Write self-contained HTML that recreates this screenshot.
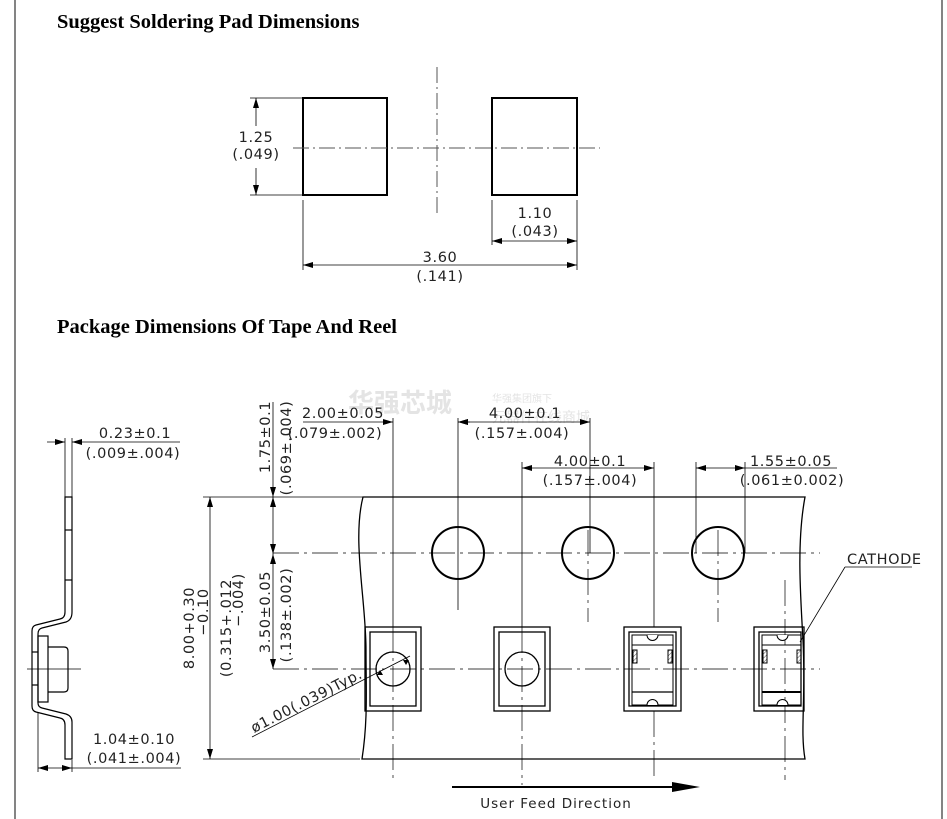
<!DOCTYPE html>
<html><head><meta charset="utf-8"><style>
body{margin:0;background:#fff;}
svg{display:block;}
.t{font-family:"DejaVu Sans","Liberation Sans",sans-serif;font-size:14.5px;letter-spacing:0.6px;fill:#222;}
.h{font-family:"Liberation Serif",serif;font-weight:bold;font-size:20.5px;fill:#000;}
</style></head><body>
<svg width="947" height="819" viewBox="0 0 947 819" xmlns="http://www.w3.org/2000/svg">
<defs>
<marker id="a" viewBox="0 0 10 6" refX="10" refY="3" markerWidth="10" markerHeight="6" orient="auto-start-reverse" markerUnits="userSpaceOnUse"><path d="M0,0 L10,3 L0,6 z" fill="#000"/></marker>
<pattern id="hp" width="3" height="3" patternUnits="userSpaceOnUse" patternTransform="rotate(45)"><line x1="0" y1="0" x2="0" y2="3" stroke="#555" stroke-width="1"/></pattern>
</defs>
<rect width="947" height="819" fill="#fff"/>
<line x1="15" y1="0" x2="15" y2="819" stroke="#333" stroke-width="1.2"/>
<line x1="942" y1="0" x2="942" y2="819" stroke="#333" stroke-width="1.2"/>

<text class="h" x="57" y="28">Suggest Soldering Pad Dimensions</text>
<text class="h" x="57" y="333">Package Dimensions Of Tape And Reel</text>

<!-- pads -->
<g stroke="#000" fill="none">
<rect x="303" y="98" width="84" height="97" stroke-width="2"/>
<rect x="492" y="98" width="85" height="97" stroke-width="2"/>
<line x1="437" y1="67" x2="437" y2="215" stroke="#555" stroke-width="1" stroke-dasharray="16,4,2,4"/>
<line x1="293" y1="148" x2="600" y2="148" stroke="#555" stroke-width="1" stroke-dasharray="16,4,2,4"/>
<g stroke-width="0.8">
<line x1="250" y1="98" x2="303" y2="98"/><line x1="250" y1="195" x2="303" y2="195"/>
<line x1="256" y1="126" x2="256" y2="98" marker-end="url(#a)"/>
<line x1="256" y1="168" x2="256" y2="195" marker-end="url(#a)"/>
<line x1="492" y1="200" x2="492" y2="245"/><line x1="577" y1="200" x2="577" y2="270"/>
<line x1="303" y1="200" x2="303" y2="270"/>
<line x1="492" y1="241" x2="577" y2="241" marker-start="url(#a)" marker-end="url(#a)"/>
<line x1="303" y1="265" x2="577" y2="265" marker-start="url(#a)" marker-end="url(#a)"/>
</g></g>
<text class="t" x="256" y="142" text-anchor="middle">1.25</text>
<text class="t" x="256" y="159" text-anchor="middle">(.049)</text>
<text class="t" x="535" y="218" text-anchor="middle">1.10</text>
<text class="t" x="535" y="236" text-anchor="middle">(.043)</text>
<text class="t" x="440" y="262" text-anchor="middle">3.60</text>
<text class="t" x="440" y="281" text-anchor="middle">(.141)</text>

<!-- watermark -->
<text x="348" y="412" font-family="'Noto Sans CJK SC',sans-serif" font-weight="bold" font-size="26" fill="#e4e4e4">华强芯城</text>
<text x="492" y="402" font-family="'Noto Sans CJK SC',sans-serif" font-size="10" fill="#e4e4e4">华强集团旗下</text>
<text x="492" y="422" font-family="'Noto Sans CJK SC',sans-serif" font-size="14" fill="#e4e4e4">元器件在线商城</text>

<!-- side profile -->
<g stroke="#000" fill="none" stroke-width="1.2">
<path d="M65,497 H72 V612 Q72,620 66,622 L42,628 Q38,629 38,634 V703 Q38,707 42,708 L66,714 Q72,716 72,722 V759 H65 V725 Q65,719 60,718 L36,712 Q32,711 32,706 V631 Q32,626 36,625 L60,619 Q65,618 65,612 Z"/>
<rect x="38" y="636" width="10" height="66"/>
<path d="M48,647 H64 Q68,647 68,651 V688 Q68,692 64,692 H48"/>
<line x1="65" y1="530" x2="72" y2="530"/><line x1="65" y1="580" x2="72" y2="580"/>
<line x1="32" y1="652" x2="38" y2="652"/><line x1="32" y1="685" x2="38" y2="685"/>
<line x1="27" y1="669" x2="81" y2="669" stroke-width="0.8"/>
</g>
<g stroke="#000" stroke-width="0.8" fill="none">
<line x1="65" y1="438" x2="65" y2="497"/><line x1="72" y1="438" x2="72" y2="497"/>
<line x1="47" y1="442" x2="65" y2="442" marker-end="url(#a)"/>
<line x1="180" y1="442" x2="72" y2="442" marker-end="url(#a)"/>
<line x1="38" y1="712" x2="38" y2="772"/><line x1="72" y1="760" x2="72" y2="772"/>
<line x1="38" y1="768" x2="72" y2="768" marker-start="url(#a)" marker-end="url(#a)"/>
<line x1="72" y1="768" x2="181" y2="768"/>
</g>
<text class="t" x="135" y="438" text-anchor="middle">0.23±0.1</text>
<text class="t" x="133" y="458" text-anchor="middle">(.009±.004)</text>
<text class="t" x="134" y="744" text-anchor="middle">1.04±0.10</text>
<text class="t" x="134" y="763" text-anchor="middle">(.041±.004)</text>

<!-- tape -->
<path d="M363,497 H805 C797,540 800,590 803,640 C806,700 800,730 805,759 H362 C368,720 366,690 366,650 C366,600 352,540 363,497 Z" fill="none" stroke="#000" stroke-width="1.3"/>

<g stroke="#000" stroke-width="0.8" fill="none">
<line x1="203" y1="497" x2="300" y2="497"/><line x1="203" y1="759" x2="360" y2="759"/>
<line x1="210" y1="497" x2="210" y2="759" marker-start="url(#a)" marker-end="url(#a)"/>
<line x1="273" y1="402" x2="273" y2="497" marker-end="url(#a)"/>
<line x1="273" y1="497" x2="273" y2="554" marker-start="url(#a)" marker-end="url(#a)"/>
<line x1="273" y1="554" x2="273" y2="669" marker-start="url(#a)" marker-end="url(#a)"/>
<line x1="300" y1="497" x2="363" y2="497"/>
<line x1="393" y1="418" x2="393" y2="627"/>
<line x1="458" y1="418" x2="458" y2="610"/>
<line x1="590" y1="418" x2="590" y2="553"/>
<line x1="303" y1="422" x2="393" y2="422" marker-end="url(#a)"/>
<line x1="470" y1="422" x2="458" y2="422" marker-end="url(#a)"/>
<line x1="458" y1="422" x2="590" y2="422" marker-start="url(#a)" marker-end="url(#a)"/>
<line x1="522" y1="462" x2="522" y2="627"/>
<line x1="654" y1="462" x2="654" y2="627"/>
<line x1="522" y1="468" x2="654" y2="468" marker-start="url(#a)" marker-end="url(#a)"/>
<line x1="696" y1="462" x2="696" y2="553"/>
<line x1="745" y1="462" x2="745" y2="553"/>
<line x1="696" y1="468" x2="745" y2="468" marker-start="url(#a)" marker-end="url(#a)"/>
<line x1="745" y1="468" x2="837" y2="468"/>
</g>
<g stroke="#000" stroke-width="0.7" fill="none" stroke-dasharray="26,5,3,5">
<line x1="273" y1="553" x2="820" y2="553"/>
<line x1="273" y1="669" x2="820" y2="669"/>
<line x1="393" y1="627" x2="393" y2="780"/>
<line x1="522" y1="627" x2="522" y2="785"/>
<line x1="654" y1="711" x2="654" y2="780"/>
<line x1="785" y1="580" x2="785" y2="780"/>
<line x1="588" y1="530" x2="588" y2="622"/>
<line x1="718" y1="530" x2="718" y2="622"/>
</g>
<g stroke="#000" stroke-width="2" fill="none">
<circle cx="458" cy="553" r="26"/><circle cx="588" cy="553" r="26"/><circle cx="718" cy="553" r="26"/>
</g>
<g stroke="#000" fill="none" stroke-width="1.3">
<rect x="365" y="627" width="56" height="84"/><rect x="370" y="632" width="46" height="74"/>
<circle cx="393" cy="669" r="17"/>
<rect x="494" y="627" width="56" height="84"/><rect x="499" y="632" width="46" height="74"/>
<circle cx="522" cy="669" r="17"/>
<rect x="624" y="627" width="57" height="84"/><rect x="629" y="632" width="47" height="74"/>
<rect x="632" y="635" width="41" height="70" stroke-width="1"/>
<line x1="632" y1="645" x2="673" y2="645" stroke-width="1"/>
<line x1="632" y1="692" x2="673" y2="692" stroke-width="1.2"/>
<rect x="754" y="627" width="50" height="84"/><rect x="759" y="632" width="42" height="74"/>
<rect x="762" y="635" width="39" height="70" stroke-width="1"/>
<line x1="762" y1="645" x2="801" y2="645" stroke-width="1"/>
<line x1="762" y1="692" x2="801" y2="692" stroke-width="2"/>
</g>
<g fill="#fff" stroke="#000" stroke-width="1">
<path d="M647,635 A5,5 0 0 0 658,635"/><path d="M647,705 A5,5 0 0 1 658,705"/>
<path d="M777,635 A5,5 0 0 0 788,635"/><path d="M777,705 A5,5 0 0 1 788,705"/>
<rect x="633" y="650" width="4" height="13" fill="url(#hp)"/><rect x="668" y="650" width="4" height="13" fill="url(#hp)"/>
<rect x="763" y="650" width="4" height="13" fill="url(#hp)"/><rect x="797" y="650" width="4" height="13" fill="url(#hp)"/>
</g>
<line x1="252" y1="737" x2="410" y2="656" stroke="#000" stroke-width="0.8"/>
<path d="M383,675 l-6,0 l3,-5z M403,660 l6,0 l-3,5z" fill="#000"/>
<text class="t" transform="translate(254,733) rotate(-27)">ø1.00(.039)Typ.</text>
<text class="t" x="847" y="564" font-size="13">CATHODE</text>
<line x1="845" y1="567" x2="912" y2="567" stroke="#000" stroke-width="0.8"/>
<line x1="845" y1="567" x2="800" y2="642" stroke="#000" stroke-width="0.8"/>

<text class="t" transform="translate(194,628) rotate(-90)" text-anchor="middle">8.00+0.30</text>
<text class="t" transform="translate(208,612) rotate(-90)" text-anchor="middle">−0.10</text>
<text class="t" transform="translate(231,628) rotate(-90)" text-anchor="middle">(0.315+.012</text>
<text class="t" transform="translate(243,600) rotate(-90)" text-anchor="middle">−.004)</text>
<text class="t" transform="translate(270,437) rotate(-90)" text-anchor="middle">1.75±0.1</text>
<text class="t" transform="translate(291,448) rotate(-90)" text-anchor="middle">(.069±.004)</text>
<text class="t" transform="translate(270,612) rotate(-90)" text-anchor="middle">3.50±0.05</text>
<text class="t" transform="translate(291,615) rotate(-90)" text-anchor="middle">(.138±.002)</text>

<text class="t" x="343" y="418" text-anchor="middle">2.00±0.05</text>
<text class="t" x="335" y="438" text-anchor="middle">(.079±.002)</text>
<text class="t" x="525" y="418" text-anchor="middle">4.00±0.1</text>
<text class="t" x="522" y="438" text-anchor="middle">(.157±.004)</text>
<text class="t" x="590" y="466" text-anchor="middle">4.00±0.1</text>
<text class="t" x="590" y="485" text-anchor="middle">(.157±.004)</text>
<text class="t" x="791" y="466" text-anchor="middle">1.55±0.05</text>
<text class="t" x="792" y="485" text-anchor="middle">(.061±0.002)</text>

<line x1="452" y1="787" x2="680" y2="787" stroke="#000" stroke-width="2"/>
<path d="M672,782 L700,787 L672,792 Z" fill="#000"/>
<text class="t" x="556" y="808" text-anchor="middle" style="font-size:13.5px;letter-spacing:1px">User Feed Direction</text>
</svg>
</body></html>
